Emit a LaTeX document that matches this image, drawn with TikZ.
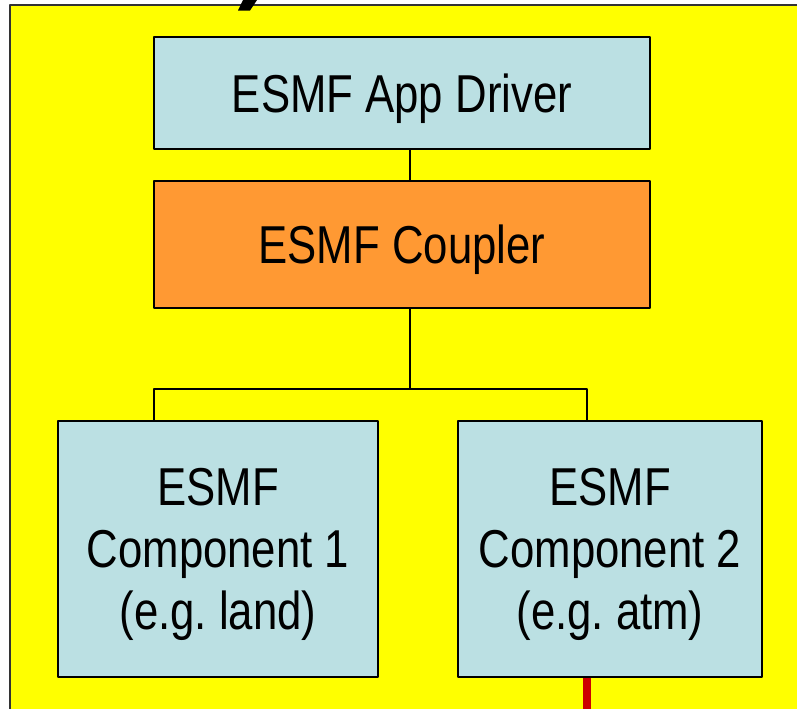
\documentclass[tikz,border=0pt]{standalone}
\usepackage{fontspec}
\setmainfont[FakeStretch=0.82]{Liberation Sans}
\frenchspacing
\definecolor{boxblue}{RGB}{187,224,227}
\definecolor{cplorange}{RGB}{255,153,51}
\definecolor{bgyellow}{RGB}{255,255,0}
\definecolor{linkred}{RGB}{204,0,0}
\begin{document}
\begin{tikzpicture}[x=0.75pt,y=-0.75pt,line join=round,
		esmf/.style={draw,line width=1pt,fill=boxblue,inner sep=0pt,text depth=0pt,align=center,font=\fontsize{40}{46.5}\selectfont}]
			\useasboundingbox (0,0) rectangle (797,708);
			\clip (0,0) rectangle (797,708);
			\draw[fill=bgyellow,draw=black!80,line width=.8pt] (10,5) rectangle (830,740);
			\fill (238,10.5)--(250,10.5)--(257,0)--(243,0)--cycle;
			\node[esmf,minimum width=372pt,minimum height=84pt] (drv) at (402,93) {ESMF App Driver};
			\node[esmf,fill=cplorange,minimum width=372pt,minimum height=95.25pt] (cpl) at (402,244.5) {ESMF Coupler};
			\node[esmf,minimum width=240pt,minimum height=192pt] (cmpa) at (218,549) {ESMF\\Component 1\\(e.g. land)};
			\node[esmf,minimum width=228pt,minimum height=192pt] (cmpb) at (610,549) {ESMF\\Component 2\\(e.g. atm)};
			\coordinate (trunk) at (410,0); \coordinate (lft) at (154,0); \coordinate (rgt) at (587,0); \coordinate (bar) at (0,389);
			\draw[line width=1pt] (drv.south-|trunk)--(cpl.north-|trunk) (cpl.south-|trunk)--(bar-|trunk)
				(cmpa.north-|lft)|-(bar-|rgt)--(cmpb.north-|rgt);
			\draw[linkred,line width=5.5pt] (cmpb.south-|rgt)--++(0,40);
	\end{tikzpicture}
\end{document}
